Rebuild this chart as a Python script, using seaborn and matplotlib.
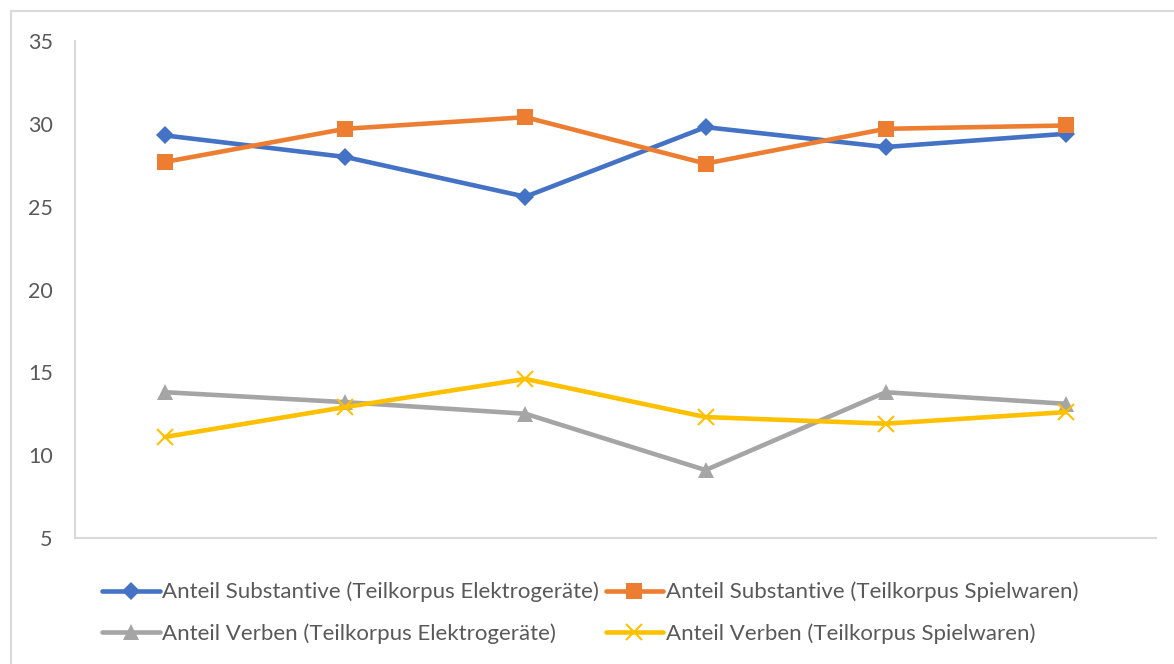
import numpy as np
import pandas as pd
import matplotlib
matplotlib.use("Agg")
import matplotlib.pyplot as plt
import matplotlib.patches as mpatches
import seaborn as sns

categories = ["1", "2", "3", "4", "5", "6"]
subst_elektro = [29.3, 28.0, 25.6, 29.8, 28.6, 29.4]
subst_spiel = [27.7, 29.7, 30.4, 27.6, 29.7, 29.9]
verb_elektro = [13.8, 13.2, 12.5, 9.1, 13.8, 13.1]
verb_spiel = [11.1, 12.9, 14.6, 12.3, 11.9, 12.6]
series_names = [
    "Anteil Substantive (Teilkorpus Elektrogeräte)",
    "Anteil Substantive (Teilkorpus Spielwaren)",
    "Anteil Verben (Teilkorpus Elektrogeräte)",
    "Anteil Verben (Teilkorpus Spielwaren)",
]
yticks = [5, 10, 15, 20, 25, 30, 35]

colors = ["#4472C4", "#ED7D31", "#A5A5A5", "#FFC000"]
markers = ["D", "s", "^", "x"]
msizes = [9.5, 11, 11, 11]

sns.set_theme(style="white")
plt.rcParams["font.family"] = ["Lato", "DejaVu Sans"]

rows = []
for name, vals in zip(series_names, [subst_elektro, subst_spiel, verb_elektro, verb_spiel]):
    for c, v in zip(categories, vals):
        rows.append({"cat": c, "value": v, "series": name})
df = pd.DataFrame(rows)

fig = plt.figure(figsize=(11.74, 6.64), dpi=100)
ax = fig.add_axes([75 / 1174, 1 - 538 / 664, (1156 - 75) / 1174, (538 - 41) / 664])

for name, col, mk, ms in zip(series_names, colors, markers, msizes):
    sub = df[df["series"] == name]
    sns.lineplot(data=sub, x="cat", y="value", color=col, marker=mk,
                 markersize=ms, linewidth=3.3, markeredgecolor=col,
                 markeredgewidth=1.5 if mk == "x" else 0, ax=ax, label=name,
                 sort=False)

ax.set_xlim(-0.5, 5.5)
ax.set_ylim(5, 35)
ax.set_yticks(yticks)
ax.set_yticklabels([str(t) for t in yticks], color="#595959", fontsize=15.5)
ax.set_xticks([])
ax.set_xlabel("")
ax.set_ylabel("")
ax.tick_params(axis="y", length=0, pad=16)
for s in ["top", "right"]:
    ax.spines[s].set_visible(False)
for s in ["left", "bottom"]:
    ax.spines[s].set_color("#D9D9D9")
    ax.spines[s].set_linewidth(1.5)
ax.grid(False)

handles, labels = ax.get_legend_handles_labels()
ax.get_legend().remove()
order = [0, 2, 1, 3]  # matplotlib fills columns first; reference reads row-wise
handles = [handles[i] for i in order]
labels = [labels[i] for i in order]
fig.legend(handles, labels, ncol=2, loc="center", bbox_to_anchor=(590 / 1174, 1 - 613 / 664),
           frameon=False, fontsize=16, labelcolor="#595959", handlelength=2.6,
           handletextpad=0.1, columnspacing=0.3, labelspacing=0.95)

fig.patches.append(mpatches.Rectangle((11 / 1174, -0.1), 1.2, 1 - 11 / 664 + 0.1,
                                      transform=fig.transFigure, fill=False,
                                      edgecolor="#D9D9D9", linewidth=1.5))

fig.savefig("out.png", dpi=100)
